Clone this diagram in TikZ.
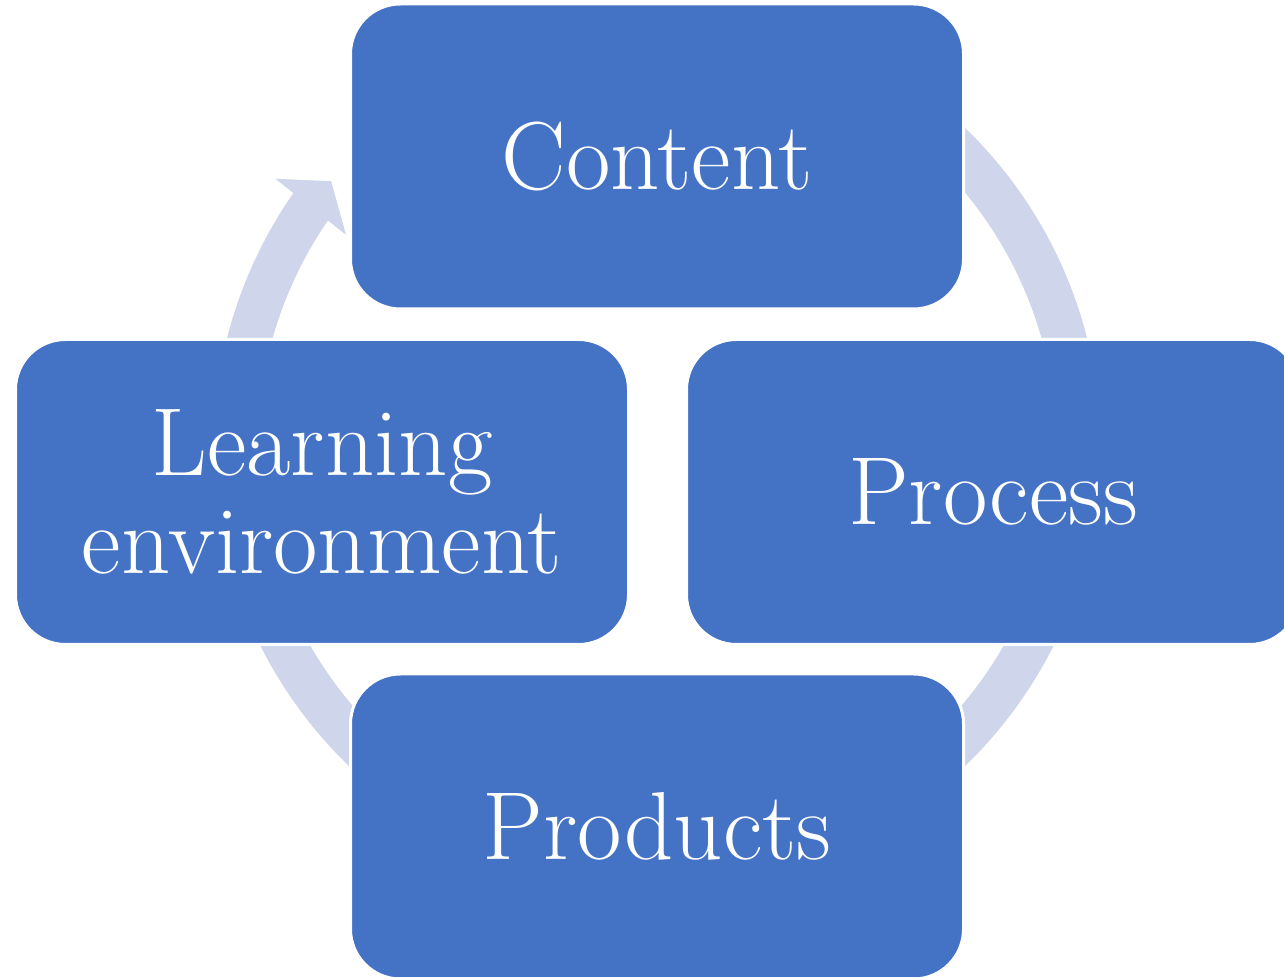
\documentclass[tikz,border=0pt]{standalone}
\definecolor{stageblue}{HTML}{4472C4}
\definecolor{ringgrey}{HTML}{CFD5EA}
\begin{document}
\begin{tikzpicture}[
    stage/.style={fill=stageblue, draw=white, line width=0.06cm, rounded corners=1cm,
      minimum width=12.26cm, minimum height=6.1cm, inner sep=0pt,
      text=white, align=center, font=\fontsize{55}{56}\selectfont},
    ring/.style={color=ringgrey}]
    \useasboundingbox (0,0) rectangle (25.68,19.54);
    \clip (0,0) rectangle (25.68,19.54);
    \coordinate (hub) at (13.14,10.6);
    \draw[ring, line width=0.88cm] ([shift={(90:8.43)}]hub) arc[start angle=90, end angle=-215, radius=8.43];
    \fill[ring] ([shift={(144.9:9.33)}]hub) -- ([shift={(140.8:8.41)}]hub) -- ([shift={(145.7:7.53)}]hub) -- cycle;
    \node[stage] (content) at (13.14,16.41) {Content};
    \node[stage] (process) at (19.86,9.70) {Process};
    \node[stage] (products) at (13.14,3.01) {Products};
    \node[stage] (learning) at (6.44,9.70) {Learning\\environment};
\end{tikzpicture}
\end{document}
